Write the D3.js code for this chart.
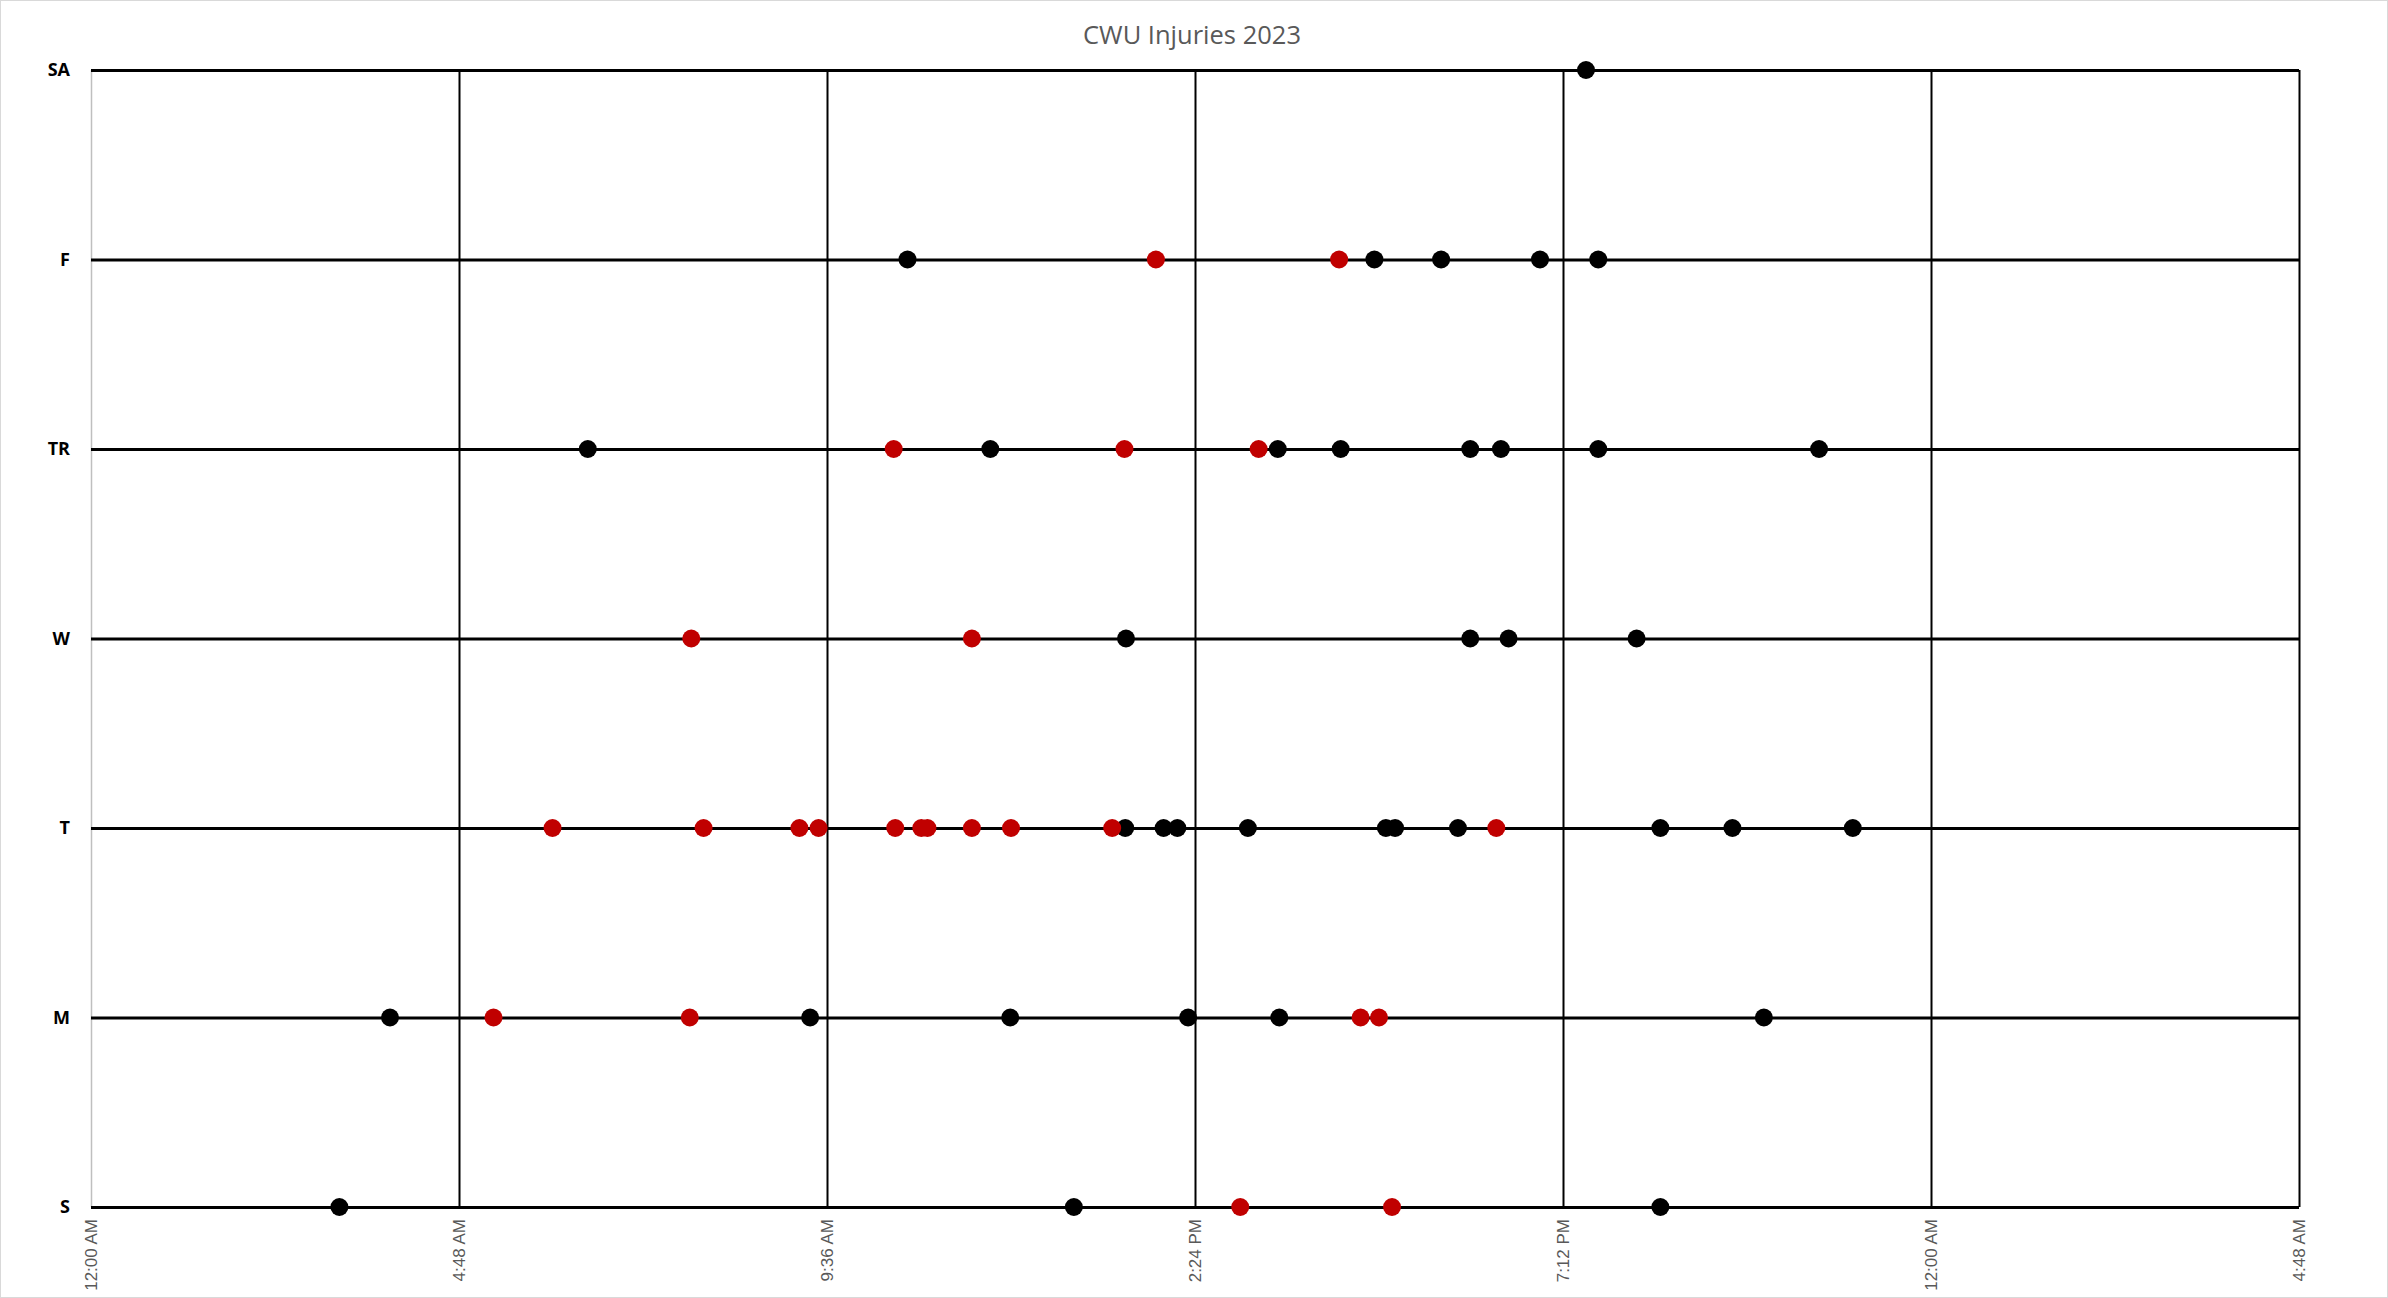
<!DOCTYPE html>
<html>
<head>
<meta charset="utf-8">
<script src="https://cdn.jsdelivr.net/npm/d3@7"></script>
<style>
  html, body { margin: 0; padding: 0; background: #fff; }
</style>
</head>
<body>
<svg id="chart" width="2388" height="1298"></svg>
<script>
// Days of week, bottom to top
const days = ["S", "M", "T", "W", "TR", "F", "SA"];

// Tick labels along the time axis (every 4.8 hours)
const tickHours = [0, 4.8, 9.6, 14.4, 19.2, 24, 28.8];
const tickLabels = ["12:00 AM", "4:48 AM", "9:36 AM", "2:24 PM", "7:12 PM", "12:00 AM", "4:48 AM"];

// Injuries, [day, hour of day]
const blackPoints = [
  ["SA", 19.5],
  ["F", 10.65], ["F", 16.74], ["F", 17.61], ["F", 18.9], ["F", 19.66],
  ["TR", 6.48], ["TR", 11.73], ["TR", 15.48], ["TR", 16.3], ["TR", 17.99], ["TR", 18.39], ["TR", 19.66], ["TR", 22.54],
  ["W", 13.5], ["W", 17.99], ["W", 18.49], ["W", 20.16],
  ["T", 13.49], ["T", 13.99], ["T", 14.17], ["T", 15.09], ["T", 16.89], ["T", 17.01], ["T", 17.83], ["T", 20.47], ["T", 21.41], ["T", 22.98],
  ["M", 3.9], ["M", 9.38], ["M", 11.99], ["M", 14.31], ["M", 15.5], ["M", 21.82],
  ["S", 3.24], ["S", 12.82], ["S", 20.47]
];
const redPoints = [
  ["F", 13.89], ["F", 16.28],
  ["TR", 10.47], ["TR", 13.48], ["TR", 15.23],
  ["W", 7.83], ["W", 11.49],
  ["T", 6.02], ["T", 7.99], ["T", 9.24], ["T", 9.49], ["T", 10.49], ["T", 10.83], ["T", 10.91], ["T", 11.49], ["T", 12.0], ["T", 13.32], ["T", 18.33],
  ["M", 5.25], ["M", 7.81], ["M", 16.56], ["M", 16.8],
  ["S", 14.99], ["S", 16.97]
];

const WIDTH = 2388;
const HEIGHT = 1298;
const MARGIN = { top: 70, right: 89, bottom: 91, left: 91 };
const RED = "#c00000";
const GRID = "#000";
const TEXT_GRAY = "#595959";
const DOT_R = 9;

const svg = d3.select("#chart");
const innerW = WIDTH - MARGIN.left - MARGIN.right;
const innerH = HEIGHT - MARGIN.top - MARGIN.bottom;

// outer chart border
svg.append("rect")
  .attr("x", 0.5).attr("y", 0.5)
  .attr("width", WIDTH - 1).attr("height", HEIGHT - 1)
  .attr("fill", "#fff")
  .attr("stroke", "#d9d9d9");

const x = d3.scaleLinear().domain([0, 28.8]).range([0, innerW]);
const y = d3.scalePoint().domain(days).range([innerH, 0]);

const g = svg.append("g").attr("transform", `translate(${MARGIN.left},${MARGIN.top})`);

// Title
svg.append("text")
  .text("CWU Injuries 2023")
  .attr("x", 1192)
  .attr("y", 44)
  .attr("text-anchor", "middle")
  .attr("font-family", "'Open Sans', sans-serif")
  .attr("font-size", 25.5)
  .attr("fill", TEXT_GRAY);

// Vertical gridlines
const xAxis = d3.axisBottom(x)
  .tickValues(tickHours)
  .tickSize(-innerH)
  .tickPadding(12)
  .tickFormat((d, i) => tickLabels[i]);
const xg = g.append("g")
  .attr("transform", `translate(0,${innerH})`)
  .call(xAxis);
xg.select(".domain").remove();
xg.selectAll(".tick line")
  .attr("stroke", (d, i) => i === 0 ? "#bfbfbf" : GRID)
  .attr("stroke-width", (d, i) => i === 0 ? 1.5 : 2);
xg.selectAll(".tick text")
  .attr("transform", "rotate(-90)")
  .attr("text-anchor", "end")
  .attr("x", -12)
  .attr("y", 0)
  .attr("dy", "0.35em")
  .attr("font-family", "'Liberation Sans', Arial, sans-serif")
  .attr("font-size", 17)
  .attr("fill", TEXT_GRAY);

// Horizontal day lines
const yAxis = d3.axisLeft(y)
  .tickSize(-innerW)
  .tickPadding(21);
const yg = g.append("g").call(yAxis);
yg.select(".domain").remove();
yg.selectAll(".tick line")
  .attr("stroke", GRID)
  .attr("stroke-width", 3);
yg.selectAll(".tick text")
  .attr("font-family", "'Open Sans', sans-serif")
  .attr("font-weight", "bold")
  .attr("font-size", 18)
  .attr("fill", "#000");

// Points
const dots = g.append("g");
dots.selectAll("circle.black")
  .data(blackPoints)
  .enter()
  .append("circle")
  .attr("class", "black")
  .attr("cx", d => x(d[1]))
  .attr("cy", d => y(d[0]))
  .attr("r", DOT_R)
  .attr("fill", "#000");
dots.selectAll("circle.red")
  .data(redPoints)
  .enter()
  .append("circle")
  .attr("class", "red")
  .attr("cx", d => x(d[1]))
  .attr("cy", d => y(d[0]))
  .attr("r", DOT_R)
  .attr("fill", RED);
</script>
</body>
</html>
